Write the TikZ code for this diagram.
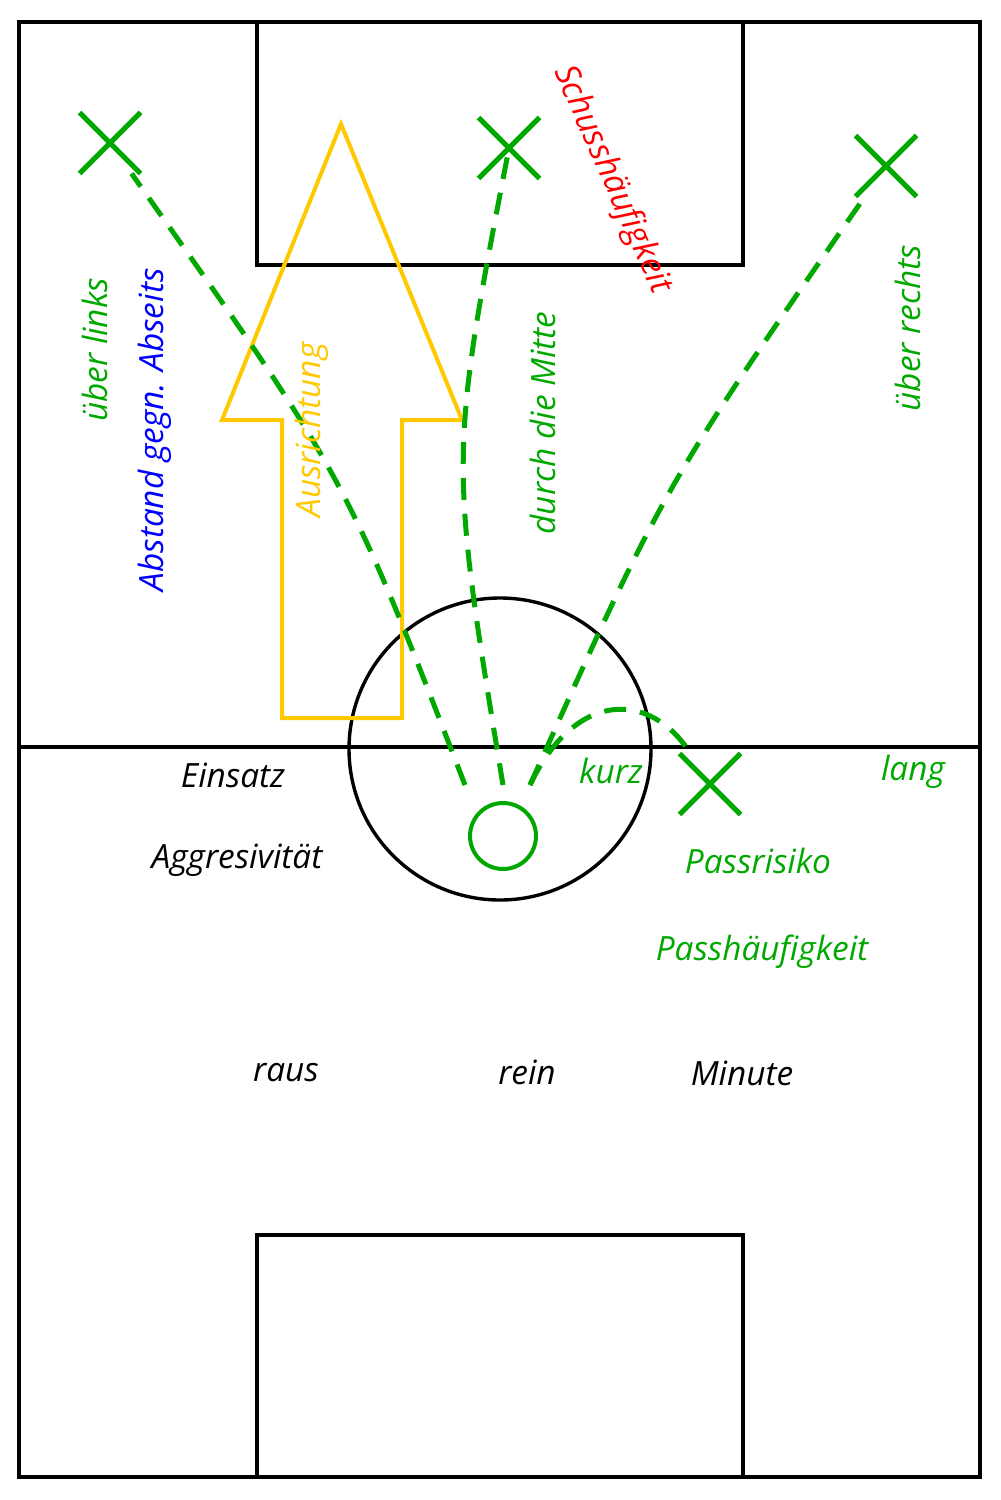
\documentclass[tikz,border=0pt]{standalone}
\usepackage{fontspec}
\setmainfont{Open Sans}
\usepackage{tikz}
\usetikzlibrary{shapes.misc}
\definecolor{fpGreen}{HTML}{00A800}
\definecolor{fpGold}{HTML}{FFC800}
\definecolor{fpBlue}{HTML}{0000FF}
\definecolor{fpRed}{HTML}{FF0000}
\tikzset{
  fp pitch/.style={font=\itshape\fontsize{9.5}{11}\selectfont,
    line cap=butt, line join=miter},
  fp line/.style={draw=black, line width=0.34mm},
  fp mark/.style={cross out, draw=fpGreen, line width=0.5mm,
    minimum size=5.6mm, inner sep=0pt},
  fp ball/.style={circle, draw=fpGreen, line width=0.4mm,
    minimum size=6.6mm, inner sep=0pt},
  fp pass/.style={draw=fpGreen, line width=0.5mm,
    dash pattern=on 2.2mm off 1.4mm},
  fp arrow/.style={draw=fpGold, line width=0.4mm},
  fp label/.style={inner sep=1pt},
  fp up/.style={fp label, rotate=90}
}
\begin{document}
\begin{tikzpicture}[fp pitch,x=0.1mm,y=-0.1mm]
\useasboundingbox (0,0) rectangle (1000,1500);
\draw[fp line] (19,22) rectangle (980,1477);
\draw[fp line] (257,22) rectangle (743,265);
\draw[fp line] (257,1235) rectangle (743,1477);
\draw[fp line] (19,747) -- (980,747);
\draw[fp line] (500,749) circle (15.1mm);
\draw[fp arrow] (341,124) -- (462,420) -- (402,420) -- (402,718)
  -- (282,718) -- (282,420) -- (222,420) -- cycle;
\node[fp ball] (ball) at (503,836) {};
\foreach \name/\pos in {left/{(110,143)},mid/{(509,148)},right/{(886,166)},short/{(710,784)}}{
  \node[fp mark] (\name) at \pos {};
}
\coordinate (from left) at (465,785);
\coordinate (from mid) at (503,785);
\coordinate (from right) at (530,785);
\draw[fp pass] (from left) .. controls (346,477) .. (left);
\draw[fp pass] (from mid) .. controls (449,458) .. (mid.center);
\draw[fp pass] (from right) .. controls (664,486) .. (right);
\draw[fp pass] (from right) .. controls (575,690) and (650,690) .. (short);
\node[fp up, text=fpGreen] (over left) at (95,350) {über links};
\node[fp up, text=fpBlue] (offside) at (155,430) {Abstand gegn. Abseits};
\node[fp up, text=fpGold] (heading) at (312,430) {Ausrichtung};
\node[fp up, text=fpGreen] (centre) at (543,423) {durch die Mitte};
\node[fp up, text=fpGreen] (over right) at (908,328) {über rechts};
\node[fp label, rotate=-66, text=fpRed] (shots) at (612,180) {Schusshäufigkeit};
\node[fp label] (effort) at (233,775) {Einsatz};
\node[fp label] (aggression) at (237,860) {Aggresivität};
\node[fp label, text=fpGreen] (short text) at (611,771) {kurz};
\node[fp label, text=fpGreen] (long text) at (913,772) {lang};
\node[fp label, text=fpGreen] (risk) at (758,861) {Passrisiko};
\node[fp label, text=fpGreen] (frequency) at (762,952) {Passhäufigkeit};
\node[fp label] (sub out) at (286,1073) {raus};
\node[fp label] (sub in) at (527,1072) {rein};
\node[fp label] (minute) at (742,1073) {Minute};
\end{tikzpicture}
\end{document}
